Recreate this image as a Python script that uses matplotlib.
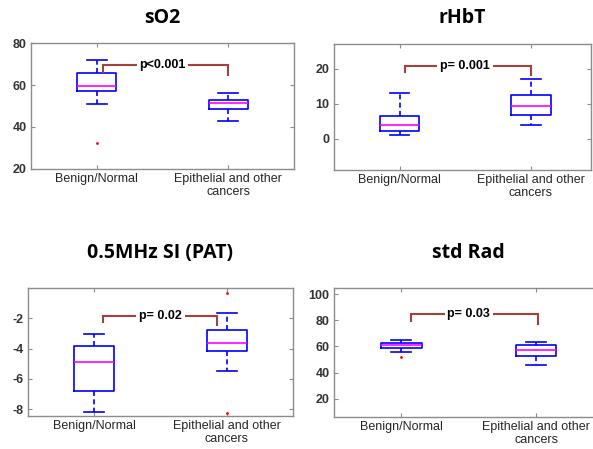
import matplotlib
matplotlib.use("Agg")
import matplotlib.pyplot as plt

plt.rcParams["axes.unicode_minus"] = False

# categories and box statistics
categories = ["Benign/Normal", "Epithelial and other\ncancers"]
titles = ["sO2", "rHbT", "0.5MHz SI (PAT)", "std Rad"]

so2_q1 = [57.0, 48.5]
so2_med = [59.5, 51.5]
so2_q3 = [65.5, 53.0]
so2_lo = [51.0, 43.0]
so2_hi = [72.0, 56.0]
so2_fliers = [[32.5], []]

rhbt_q1 = [2.2, 6.8]
rhbt_med = [4.0, 9.5]
rhbt_q3 = [6.5, 12.5]
rhbt_lo = [1.2, 3.8]
rhbt_hi = [13.0, 17.0]
rhbt_fliers = [[], []]

pat_q1 = [-6.8, -4.18]
pat_med = [-4.88, -3.63]
pat_q3 = [-3.82, -2.81]
pat_lo = [-8.18, -5.49]
pat_hi = [-3.01, -1.63]
pat_fliers = [[], [-0.37, -8.22]]

rad_q1 = [58.6, 52.8]
rad_med = [61.2, 57.1]
rad_q3 = [62.7, 61.2]
rad_lo = [55.6, 45.7]
rad_hi = [65.0, 63.2]
rad_fliers = [[51.8], []]

p_labels = ["p<0.001", "p= 0.001", "p= 0.02", "p= 0.03"]
# bracket: (x left, x right, top y, left drop y, right drop y)
brackets = [
    (1.05, 2.0, 69.5, 66.0, 64.8),
    (1.04, 2.0, 20.9, 19.2, 18.3),
    (1.07, 1.93, -1.85, -2.24, -2.42),
    (1.07, 2.01, 84.5, 79.4, 77.4),
]

yticks = [[20, 40, 60, 80], [0, 10, 20], [-8, -6, -4, -2], [20, 40, 60, 80, 100]]
ylims = [(20, 80), (-9, 27.1), (-8.44, 0), (6, 104.8)]
xlims = [(0.5, 2.5), (0.5, 2.46), (0.5, 2.5), (0.5, 2.5)]

# axes rectangles in figure fractions
rects = [
    [0.052, 0.624, 0.444, 0.280],
    [0.563, 0.621, 0.434, 0.281],
    [0.047, 0.0735, 0.447, 0.2855],
    [0.563, 0.0713, 0.455, 0.2877],
]

BLUE = "#0000ff"
MAGENTA = "#ff00ff"
BRACKET = "#a3423c"
SPINE = "#8c8c8c"


def make_stats(q1, med, q3, lo, hi, fliers):
    out = []
    for i in range(len(q1)):
        out.append(dict(q1=q1[i], med=med[i], q3=q3[i], whislo=lo[i],
                        whishi=hi[i], fliers=fliers[i]))
    return out


all_stats = [
    make_stats(so2_q1, so2_med, so2_q3, so2_lo, so2_hi, so2_fliers),
    make_stats(rhbt_q1, rhbt_med, rhbt_q3, rhbt_lo, rhbt_hi, rhbt_fliers),
    make_stats(pat_q1, pat_med, pat_q3, pat_lo, pat_hi, pat_fliers),
    make_stats(rad_q1, rad_med, rad_q3, rad_lo, rad_hi, rad_fliers),
]
title_offsets = [25, 26, 35, 35]  # px from axes top to title centre

fig = plt.figure(figsize=(5.93, 4.49), dpi=100)
fig.patch.set_facecolor("white")

for k in range(4):
    ax = fig.add_axes(rects[k])
    ax.bxp(
        all_stats[k], positions=[1, 2], widths=0.3, showfliers=True,
        boxprops=dict(color=BLUE, linewidth=1.2),
        whiskerprops=dict(color=BLUE, linewidth=1.2, linestyle=(0, (3, 2))),
        capprops=dict(color=BLUE, linewidth=1.2),
        medianprops=dict(color=MAGENTA, linewidth=1.2),
        flierprops=dict(marker=".", markersize=2, markerfacecolor="red",
                        markeredgecolor="red", linestyle="none"),
    )
    ax.set_xlim(*xlims[k])
    ax.set_ylim(*ylims[k])
    ax.set_yticks(yticks[k])
    ax.set_xticks([1, 2])
    ax.set_xticklabels(categories, fontsize=9, color="#262626",
                       family="Liberation Sans", linespacing=1.1)
    for lab in ax.get_yticklabels():
        lab.set_fontweight("bold")
        lab.set_fontsize(9)
        lab.set_family("Liberation Sans")
        lab.set_color("#333333")
    ax.tick_params(direction="in", top=True, right=True, length=3,
                   width=0.8, color=SPINE, pad=3)
    for sp in ax.spines.values():
        sp.set_color(SPINE)
        sp.set_linewidth(1.0)

    # significance bracket
    x0, x1, ytop, yl, yr = brackets[k]
    ax.plot([x0, x0, x1, x1], [yl, ytop, ytop, yr], color=BRACKET,
            linewidth=1.5, solid_joinstyle="miter", zorder=4)
    ax.text(1.5, ytop, p_labels[k], ha="center", va="center", fontsize=9,
            fontweight="bold", family="Liberation Sans", zorder=5,
            bbox=dict(facecolor="white", edgecolor="none", pad=2))

    ax.annotate(titles[k], xy=(0.5, 1), xycoords="axes fraction",
                xytext=(0, title_offsets[k] * 0.72), textcoords="offset points",
                ha="center", va="center", fontsize=14, fontweight="bold",
                family="Open Sans")

fig.savefig("out.png", dpi=100, facecolor="white")
